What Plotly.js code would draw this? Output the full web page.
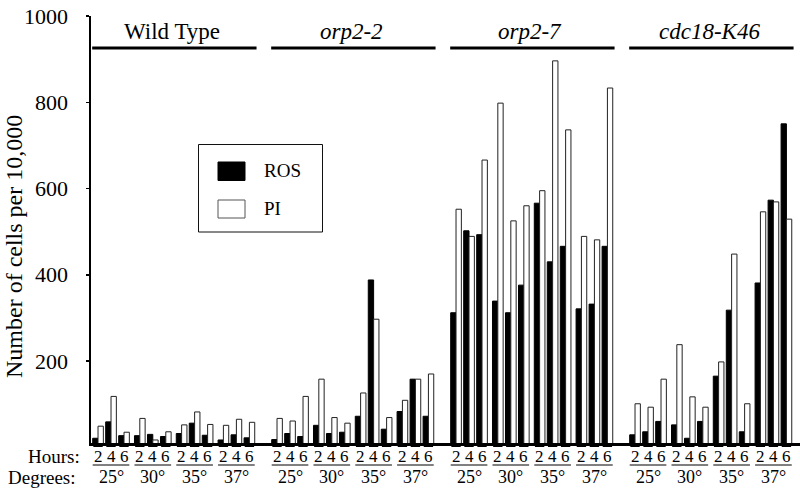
<!DOCTYPE html>
<html>
<head>
<meta charset="utf-8">
<script src="https://cdn.plot.ly/plotly-3.0.1.min.js"></script>
<style>
html,body{margin:0;padding:0;background:#fff;}
#chart{width:800px;height:490px;}
#chart text{font-family:"Liberation Serif","Times New Roman","DejaVu Serif",serif !important;}
</style>
</head>
<body>
<div id="chart"></div>
<script>
// ---- data ----
const strains = ["Wild Type", "orp2-2", "orp2-7", "cdc18-K46"];
const strainItalic = [false, true, true, true];
const temperatures = ["25°", "30°", "35°", "37°"];
const hours = ["2", "4", "6"];
const yTicks = [200, 400, 600, 800, 1000];

// values per strain, ordered temperature-major then hour (2,4,6)
const rosWT    = [21, 59, 27,  27, 30, 25,  32, 56, 28,  17, 29, 22];
const piWT     = [49, 118, 35, 67, 17, 36,  52, 82, 53,  51, 65, 58];
const rosOrp22 = [18, 32, 25,  51, 32, 35,  72, 388, 42, 83, 158, 72];
const piOrp22  = [67, 61, 118, 158, 69, 56, 126, 297, 69, 109, 158, 170];
const rosOrp27 = [312, 502, 493, 339, 312, 376, 566, 430, 466, 321, 332, 466];
const piOrp27  = [552, 489, 666, 798, 525, 560, 595, 896, 736, 489, 481, 833];
const rosCdc18 = [29, 36, 60,  52, 21, 60,  165, 318, 36, 381, 573, 750];
const piCdc18  = [101, 93, 158, 238, 117, 93, 198, 448, 101, 546, 569, 529];

const rosAll = [rosWT, rosOrp22, rosOrp27, rosCdc18];
const piAll  = [piWT, piOrp22, piOrp27, piCdc18];

// ---- layout geometry (slot units) ----
const GROUP_STEP = 13.77, TEMP_STEP = 3.215;
const M = {l: 91, r: 0, t: 16, b: 47}, W = 800, H = 490;
const plotH = H - M.t - M.b, plotW = W - M.l - M.r;
const px2py = p => (H - M.b - p) / plotH;   // pixel y -> paper y
const px2px = p => (p - M.l) / plotW;       // pixel x -> paper x
const slotPos = (g, t, h) => g * GROUP_STEP + t * TEMP_STEP + h;

const xs = [], ros = [], pi = [];
for (let g = 0; g < strains.length; g++)
  for (let t = 0; t < temperatures.length; t++)
    for (let h = 0; h < hours.length; h++) {
      xs.push(slotPos(g, t, h));
      ros.push(rosAll[g][t * 3 + h]);
      pi.push(piAll[g][t * 3 + h]);
    }

const traces = [
  {type: 'bar', name: 'ROS', x: xs, y: ros, marker: {color: '#000', line: {color: '#000', width: 1}}, hoverinfo: 'y'},
  {type: 'bar', name: 'PI', x: xs, y: pi, marker: {color: '#fff', line: {color: '#222', width: 1}}, hoverinfo: 'y'}
];

const shapes = [], annotations = [];
const FONT = 'Times New Roman';
const HALF = 0.41;

for (let g = 0; g < strains.length; g++) {
  const x0 = slotPos(g, 0, 0), x1 = slotPos(g, 3, 2);
  shapes.push({type: 'line', xref: 'x', yref: 'paper', x0: x0 - 0.45, x1: x1 + 0.55,
    y0: px2py(48), y1: px2py(48), line: {color: '#000', width: 3}});
  annotations.push({xref: 'x', yref: 'paper', x: (x0 + x1) / 2 - 0.1, y: px2py(31), yanchor: 'middle',
    text: strainItalic[g] ? '<i>' + strains[g] + '</i>' : strains[g], showarrow: false,
    font: {family: FONT, size: 23, color: '#000'}});
  for (let t = 0; t < temperatures.length; t++) {
    const a = slotPos(g, t, 0), b = slotPos(g, t, 2);
    shapes.push({type: 'line', xref: 'x', yref: 'paper', x0: a - HALF, x1: b + HALF,
      y0: px2py(465), y1: px2py(465), line: {color: '#000', width: 1}});
    annotations.push({xref: 'x', yref: 'paper', x: slotPos(g, t, 1), y: px2py(477), yanchor: 'middle',
      text: temperatures[t], showarrow: false, font: {family: FONT, size: 18, color: '#000'}});
    for (let h = 0; h < hours.length; h++) {
      const c = slotPos(g, t, h);
      shapes.push({type: 'line', xref: 'x', yref: 'paper', x0: c - HALF + 0.05, x1: c + HALF - 0.05,
        y0: px2py(446.5), y1: px2py(446.5), line: {color: '#000', width: 1}});
      annotations.push({xref: 'x', yref: 'paper', x: c, y: px2py(456), yanchor: 'middle',
        text: hours[h], showarrow: false, font: {family: FONT, size: 17, color: '#000'}});
    }
  }
}

annotations.push({xref: 'paper', yref: 'paper', x: px2px(82), y: px2py(456), xanchor: 'right', yanchor: 'middle',
  text: 'Hours:', showarrow: false, font: {family: FONT, size: 19, color: '#000'}});
annotations.push({xref: 'paper', yref: 'paper', x: px2px(78), y: px2py(477), xanchor: 'right', yanchor: 'middle',
  text: 'Degrees:', showarrow: false, font: {family: FONT, size: 19, color: '#000'}});

annotations.push({xref: 'paper', yref: 'paper', x: px2px(14), y: px2py(247), xanchor: 'center', yanchor: 'middle',
  textangle: -90, text: 'Number of cells per 10,000', showarrow: false, font: {family: FONT, size: 24, color: '#000'}});

// legend (drawn manually)
shapes.push({type: 'rect', xref: 'paper', yref: 'paper', x0: px2px(198.5), x1: px2px(322.5), y0: px2py(144.5), y1: px2py(232),
  line: {color: '#111', width: 1}, fillcolor: 'rgba(0,0,0,0)'});
shapes.push({type: 'rect', xref: 'paper', yref: 'paper', x0: px2px(218), x1: px2px(245), y0: px2py(162), y1: px2py(180.5),
  line: {color: '#000', width: 1}, fillcolor: '#000'});
shapes.push({type: 'rect', xref: 'paper', yref: 'paper', x0: px2px(218), x1: px2px(245), y0: px2py(200), y1: px2py(218),
  line: {color: '#555', width: 1}, fillcolor: '#fff'});
annotations.push({xref: 'paper', yref: 'paper', x: px2px(262), y: px2py(171), xanchor: 'left', yanchor: 'middle',
  text: traces[0].name, showarrow: false, font: {family: FONT, size: 19, color: '#000'}});
annotations.push({xref: 'paper', yref: 'paper', x: px2px(262), y: px2py(209), xanchor: 'left', yanchor: 'middle',
  text: traces[1].name, showarrow: false, font: {family: FONT, size: 19, color: '#000'}});

const layout = {
  width: W, height: H, margin: M,
  paper_bgcolor: '#fff', plot_bgcolor: '#fff',
  barmode: 'group', bargap: 0.18, bargroupgap: 0,
  showlegend: false,
  xaxis: {range: [-0.54, 54.0], showticklabels: false, ticks: '', showgrid: false, zeroline: false,
    showline: true, linecolor: '#000', linewidth: 2.5, fixedrange: true},
  yaxis: {range: [10, 1000], tickvals: yTicks, ticktext: yTicks.map(String), ticks: 'outside', ticklen: 3,
    tickwidth: 1.5, tickcolor: '#000', showgrid: false, zeroline: false, showline: true, linecolor: '#000',
    linewidth: 2.5, ticklabelstandoff: 13, tickfont: {family: FONT, size: 22, color: '#000'}, fixedrange: true},
  shapes: shapes, annotations: annotations
};

Plotly.newPlot('chart', traces, layout, {displayModeBar: false, staticPlot: true});
</script>
</body>
</html>
